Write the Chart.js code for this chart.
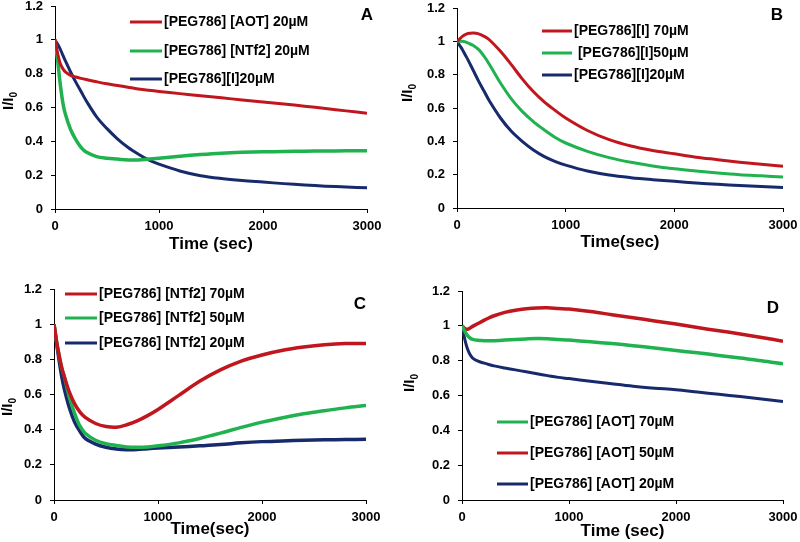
<!DOCTYPE html>
<html>
<head>
<meta charset="utf-8">
<script src="https://cdn.jsdelivr.net/npm/chart.js@4.4.1/dist/chart.umd.min.js"></script>
<style>
  body { margin: 0; width: 800px; height: 542px; background: #fff; overflow: hidden; position: relative; }
  .panel { position: absolute; }
</style>
</head>
<body>
<div class="panel" id="pa"><canvas id="ca"></canvas></div>
<div class="panel" id="pb"><canvas id="cb"></canvas></div>
<div class="panel" id="pc"><canvas id="cc"></canvas></div>
<div class="panel" id="pd"><canvas id="cd"></canvas></div>
<script>
// 시간축 (초)
const timeSec = [0, 25, 50, 75, 100, 150, 200, 250, 300, 400, 500, 600, 700, 800, 900, 1000, 1200, 1400, 1600, 1800, 2000, 2200, 2400, 2600, 2800, 3000]
const xTickLabels = [0, 1000, 2000, 3000]
const yTickLabels = [0, 0.2, 0.4, 0.6, 0.8, 1, 1.2]

// A: 20µM 비교
const aLabels = ['[PEG786] [AOT] 20µM', '[PEG786] [NTf2] 20µM', '[PEG786][I]20µM']
const aAot20 = [1.0, 0.92, 0.86, 0.83, 0.81, 0.79, 0.78, 0.772, 0.765, 0.752, 0.74, 0.73, 0.72, 0.71, 0.702, 0.695, 0.682, 0.669, 0.657, 0.645, 0.633, 0.621, 0.608, 0.594, 0.58, 0.566]
const aNtf20 = [1.0, 0.88, 0.74, 0.63, 0.56, 0.47, 0.41, 0.365, 0.337, 0.31, 0.3, 0.295, 0.29, 0.29, 0.295, 0.3, 0.312, 0.322, 0.33, 0.335, 0.338, 0.34, 0.342, 0.343, 0.344, 0.345]
const aI20 = [1.0, 0.975, 0.945, 0.91, 0.875, 0.81, 0.75, 0.695, 0.64, 0.545, 0.475, 0.415, 0.365, 0.325, 0.29, 0.265, 0.225, 0.197, 0.18, 0.168, 0.159, 0.15, 0.142, 0.135, 0.13, 0.125]

// B: [I] 농도별
const bLabels = ['[PEG786][I] 70µM', ' [PEG786][I]50µM', '[PEG786][I]20µM']
const bI70 = [1.0, 1.015, 1.03, 1.04, 1.047, 1.05, 1.045, 1.03, 1.008, 0.94, 0.86, 0.775, 0.7, 0.638, 0.587, 0.54, 0.465, 0.41, 0.372, 0.345, 0.325, 0.305, 0.29, 0.275, 0.262, 0.25]
const bI50 = [1.0, 1.0, 1.0, 0.997, 0.99, 0.975, 0.95, 0.91, 0.86, 0.75, 0.655, 0.58, 0.52, 0.47, 0.425, 0.39, 0.34, 0.302, 0.274, 0.252, 0.235, 0.222, 0.21, 0.2, 0.193, 0.186]
const bI20 = [1.0, 0.975, 0.95, 0.92, 0.89, 0.825, 0.76, 0.7, 0.64, 0.54, 0.46, 0.4, 0.35, 0.31, 0.28, 0.257, 0.222, 0.198, 0.182, 0.17, 0.16, 0.15, 0.142, 0.135, 0.129, 0.123]

// C: [NTf2] 농도별
const cLabels = ['[PEG786] [NTf2] 70µM', '[PEG786] [NTf2] 50µM', '[PEG786] [NTf2] 20µM']
const cNtf70 = [1.0, 0.9, 0.82, 0.75, 0.7, 0.61, 0.545, 0.5, 0.47, 0.435, 0.418, 0.414, 0.428, 0.45, 0.48, 0.515, 0.595, 0.675, 0.74, 0.79, 0.825, 0.852, 0.87, 0.883, 0.89, 0.89]
const cNtf50 = [1.0, 0.9, 0.82, 0.75, 0.7, 0.58, 0.49, 0.42, 0.38, 0.34, 0.32, 0.31, 0.302, 0.3, 0.302, 0.308, 0.325, 0.35, 0.38, 0.413, 0.443, 0.468, 0.49, 0.508, 0.524, 0.537]
const cNtf20 = [1.0, 0.89, 0.79, 0.7, 0.63, 0.52, 0.44, 0.39, 0.35, 0.318, 0.3, 0.29, 0.286, 0.287, 0.292, 0.296, 0.302, 0.308, 0.315, 0.325, 0.332, 0.336, 0.34, 0.342, 0.344, 0.345]

// D: [AOT] 농도별
const dLabels = ['[PEG786] [AOT] 70µM', '[PEG786] [AOT] 50µM', '[PEG786] [AOT] 20µM']
const dAot70 = [1.0, 0.97, 0.945, 0.93, 0.922, 0.917, 0.915, 0.914, 0.915, 0.918, 0.922, 0.925, 0.927, 0.926, 0.922, 0.918, 0.908, 0.898, 0.886, 0.873, 0.858, 0.845, 0.83, 0.815, 0.8, 0.782]
const dAot50 = [1.0, 0.985, 0.98, 0.988, 0.997, 1.013, 1.03, 1.045, 1.058, 1.077, 1.09, 1.098, 1.103, 1.104, 1.1, 1.096, 1.082, 1.064, 1.047, 1.028, 1.01, 0.99, 0.972, 0.953, 0.933, 0.912]
const dAot20 = [1.0, 0.925, 0.87, 0.835, 0.815, 0.797, 0.787, 0.778, 0.77, 0.758, 0.747, 0.736, 0.725, 0.714, 0.704, 0.697, 0.682, 0.667, 0.653, 0.642, 0.633, 0.62, 0.607, 0.594, 0.58, 0.565]

const RED = '#c0171e'
const GREEN = '#1fb24f'
const NAVY = '#172a6b'
const FONT = "'Liberation Sans', Arial, sans-serif"

const toPoints = ys => ys.map((y, i) => ({ x: timeSec[i], y }))

// 범례, 패널 문자, y축 제목(아래첨자 포함)
const panelDecor = {
  id: 'panelDecor',
  afterDraw(chart, args, o) {
    const ctx = chart.ctx
    ctx.save()
    // panel letter
    ctx.fillStyle = '#000'
    ctx.font = 'bold 17px ' + FONT
    ctx.textAlign = 'center'
    ctx.textBaseline = 'middle'
    ctx.fillText(o.letter, o.letterX - o.ox, o.letterY - o.oy)

    // legend
    ctx.textAlign = 'left'
    ctx.font = 'bold 14px ' + FONT
    chart.data.datasets.forEach((ds, i) => {
      const y = o.legendY[i] - o.oy
      ctx.strokeStyle = ds.borderColor
      ctx.lineWidth = 3
      ctx.beginPath()
      ctx.moveTo(o.lineX0 - o.ox, y)
      ctx.lineTo(o.lineX1 - o.ox, y)
      ctx.stroke()
      ctx.fillStyle = '#000'
      ctx.fillText(ds.label, o.textX - o.ox, y)
    })

    // y title: I/I0
    ctx.translate(o.yTitleX - o.ox, o.yTitleY - o.oy)
    ctx.rotate(-Math.PI / 2)
    ctx.font = 'bold 15px ' + FONT
    const w1 = ctx.measureText('I/I').width
    ctx.font = 'bold 10px ' + FONT
    const w2 = ctx.measureText('0').width
    ctx.textAlign = 'left'
    ctx.font = 'bold 15px ' + FONT
    ctx.fillText('I/I', -(w1 + w2) / 2, 0)
    ctx.font = 'bold 10px ' + FONT
    ctx.fillText('0', -(w1 + w2) / 2 + w1, 5)
    ctx.restore()
  }
}

function makePanel(divId, canvasId, box, series, labels, colors, widths, xTitle, decor) {
  const div = document.getElementById(divId)
  const ox = box.l - 60
  const oy = box.t - 20
  const W = box.r - box.l + 100
  const Hc = box.b - box.t + 90
  const xAxisH = box.titleY - box.b + 14.2
  div.style.left = ox + 'px'
  div.style.top = oy + 'px'
  const canvas = document.getElementById(canvasId)
  canvas.width = W
  canvas.height = Hc

  const axisCommon = {
    type: 'linear',
    border: { display: true, color: '#000', width: 1 },
    grid: { display: true, drawOnChartArea: false, drawTicks: true, tickLength: 4, color: '#000' },
  }

  return new Chart(canvas.getContext('2d'), {
    type: 'line',
    data: {
      datasets: series.map((s, i) => ({
        label: labels[i],
        data: toPoints(s),
        borderColor: colors[i],
        backgroundColor: colors[i],
        borderWidth: widths[i],
        pointRadius: 0,
        fill: false,
        tension: 0.35,
      }))
    },
    options: {
      responsive: false,
      animation: false,
      layout: { padding: { left: 0, top: 20, right: 40, bottom: 70 - xAxisH } },
      plugins: {
        legend: { display: false },
        tooltip: { enabled: false },
        panelDecor: Object.assign({ ox, oy }, decor),
      },
      scales: {
        x: {
          ...axisCommon,
          min: 0, max: 3000,
          afterBuildTicks: s => { s.ticks = xTickLabels.map(v => ({ value: v })) },
          afterFit: s => { s.height = xAxisH },
          ticks: { color: '#000', padding: 6, maxRotation: 0, font: { family: FONT, size: 13, weight: 'bold' }, callback: v => String(v) },
          title: { display: true, text: xTitle, color: '#000', font: { family: FONT, size: 17, weight: 'bold' } },
        },
        y: {
          ...axisCommon,
          min: 0, max: 1.2,
          afterBuildTicks: s => { s.ticks = yTickLabels.map(v => ({ value: v })) },
          afterFit: s => { s.width = 60 },
          ticks: { color: '#000', padding: 8, font: { family: FONT, size: 13, weight: 'bold' }, callback: v => String(v) },
        }
      }
    },
    plugins: [panelDecor]
  })
}

makePanel('pa', 'ca', { l: 55, t: 6, r: 367, b: 209, titleY: 244 },
  [aAot20, aNtf20, aI20], aLabels, [RED, GREEN, NAVY], [3, 3.5, 3], 'Time (sec)',
  { letter: 'A', letterX: 367, letterY: 15, legendY: [22, 51, 79], lineX0: 130, lineX1: 162, textX: 164, yTitleX: 9, yTitleY: 101 })

makePanel('pb', 'cb', { l: 457, t: 8, r: 783, b: 208, titleY: 242 },
  [bI70, bI50, bI20], bLabels, [RED, GREEN, NAVY], [3, 3, 3], 'Time(sec)',
  { letter: 'B', letterX: 777, letterY: 15, legendY: [31, 53, 75], lineX0: 542, lineX1: 572, textX: 574, yTitleX: 408, yTitleY: 93 })

makePanel('pc', 'cc', { l: 54, t: 289, r: 366, b: 500, titleY: 529 },
  [cNtf70, cNtf50, cNtf20], cLabels, [RED, GREEN, NAVY], [3.5, 3.5, 3.5], 'Time(sec)',
  { letter: 'C', letterX: 360, letterY: 304, legendY: [294, 318, 343], lineX0: 65, lineX1: 97, textX: 99, yTitleX: 8, yTitleY: 407 })

makePanel('pd', 'cd', { l: 462, t: 291, r: 783, b: 500, titleY: 531 },
  [dAot70, dAot50, dAot20], dLabels, [GREEN, RED, NAVY], [3.5, 3.5, 3], 'Time (sec)',
  { letter: 'D', letterX: 773, letterY: 308, legendY: [422, 453, 484], lineX0: 497, lineX1: 528, textX: 530, yTitleX: 410, yTitleY: 383 })
</script>
</body>
</html>
